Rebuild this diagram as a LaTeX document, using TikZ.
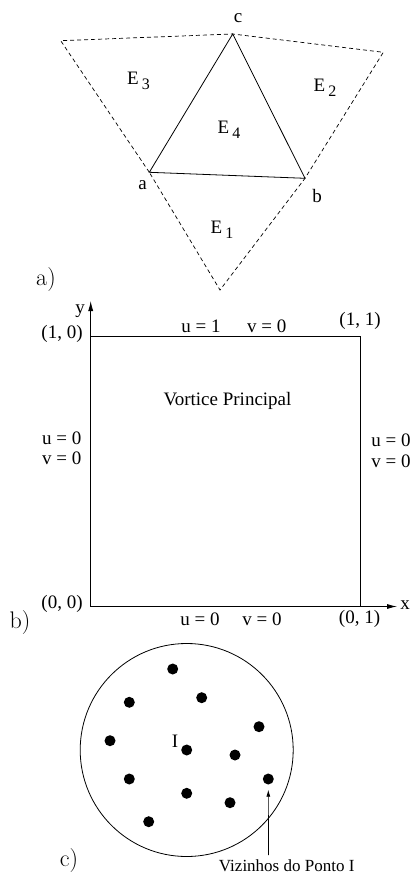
\documentclass[tikz,border=0pt]{standalone}
\usepackage{fontspec}
\usepackage{tikz}
\usetikzlibrary{arrows.meta,positioning,calc}
\newfontfamily\tms{Liberation Serif}
\tikzset{
  lbl/.style={font=\tms\fontsize{19}{22}\selectfont, inner sep=0pt},
  small/.style={font=\tms\fontsize{17}{20}\selectfont, inner sep=0pt},
  part/.style={font=\fontsize{24}{28}\selectfont, inner sep=0pt},
  edge/.style={line width=0.8pt},
  bnd/.style={line width=0.7pt, dash pattern=on 4pt off 3pt},
  dot/.style={circle, fill=black, minimum size=11pt, inner sep=0pt},
  sig/.style={-{Latex[length=10pt,width=5pt]}, line width=0.8pt},
  ptr/.style={-{Latex[length=7pt,width=4pt]}, line width=0.7pt, shorten >=5pt},
}
\newcommand{\elem}[1]{E\hspace{3pt}\raisebox{-5pt}{\fontsize{16}{18}\selectfont #1}}

\begin{document}
\begin{tikzpicture}[x=1pt,y=-1pt]
    \useasboundingbox (0,0) rectangle (411,874);
    % a) elementos vizinhos
    \coordinate (a) at (149.3,172.3);
    \coordinate (b) at (305,178.3);
    \coordinate (c) at (232.7,34);
    \coordinate (tl) at (60.7,40.7);
    \coordinate (tr) at (383.3,52.3);
    \coordinate (bt) at (220,290);
    \draw[edge] (a) -- (b) -- (c) -- cycle;
    \draw[bnd] (a) -- (tl) -- (c) -- (tr) -- (b) -- (bt) -- cycle;
    \node[lbl] (la) at (142.5,185) {a};
    \node[lbl] (lb) at (317,196) {b};
    \node[lbl] (lc) at (238,18) {c};
    \node[lbl] (e1) at (222,230) {\elem{1}};
    \node[lbl] (e2) at (325,88) {\elem{2}};
    \node[lbl] (e3) at (138.5,81) {\elem{3}};
    \node[lbl] (e4) at (229,130) {\elem{4}};
    \node[part] (pa) at (46,280) {a)};

    % b) cavidade
    \coordinate (o) at (90.7,606.5);
    \coordinate (p10) at (90.7,336.7);
    \coordinate (p11) at (360.7,336.7);
    \coordinate (p01) at (360.7,606.5);
    \coordinate (ytip) at (90.7,301);
    \coordinate (xtip) at (397,606.5);
    \draw[sig] (o) -- (ytip);
    \draw[sig] (o) -- (xtip);
    \draw[edge] (p10) -- (p11) -- (p01);
    \node[lbl] (ly) at (80,311) {y};
    \node[lbl] (lx) at (405,605) {x};
    \node[lbl] (c10) at (62,334) {(1, 0)};
    \node[lbl] (c11) at (360,321) {(1, 1)};
    \node[lbl] (c00) at (62,604) {(0, 0)};
    \node[lbl] (c01) at (359.5,619) {(0, 1)};
    \node[lbl] (tu) at (201,326) {u = 1};
    \node[lbl] (tv) at (266.7,326) {v = 0};
    \node[lbl] (bu) at (200,619) {u = 0};
    \node[lbl] (bv) at (262,619) {v = 0};
    \node[lbl] (lu) at (61.7,438) {u = 0};
    \node[lbl] (lv) at (61.7,458) {v = 0};
    \node[lbl] (ru) at (391,440) {u = 0};
    \node[lbl] (rv) at (391,461) {v = 0};
    \node[lbl] (vp) at (227.5,401) {Vortice Principal};
    \node[part] (pb) at (20,623) {b)};

    % c) vizinhanca do ponto I
    \node[draw, circle, edge, minimum size=213pt, inner sep=0pt] (viz) at (186.7,750) {};
    \foreach \p [count=\i] in {{(172.7,669)},{(129.3,702.3)},{(201.7,697.7)},
        {(259,726.7)},{(110,740.7)},{(186.7,750)},{(235,755)},{(129.3,779)},
        {(268.3,779)},{(186.7,793.3)},{(230,802.7)},{(148.7,821.7)}}
      \node[dot] (d\i) at \p {};
    \node[lbl] (li) at (175,741) {I};
    \coordinate (vz) at (268.5,855);
    \draw[ptr] (vz) -- (d9);
    \node[small, anchor=base] (lviz) at (286.7,871.5) {Vizinhos do Ponto I};
    \node[part] (pc) at (69,861) {c)};
\end{tikzpicture}
\end{document}
